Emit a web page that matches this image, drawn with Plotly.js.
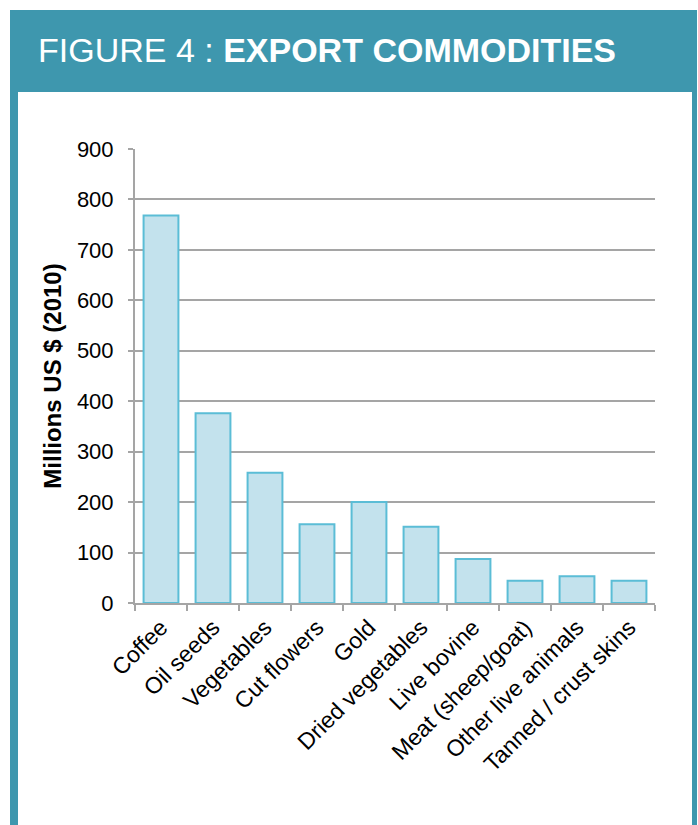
<!DOCTYPE html>
<html>
<head>
<meta charset="utf-8">
<script src="https://cdn.plot.ly/plotly-3.0.1.min.js"></script>
<style>html,body{margin:0;padding:0;background:#fff;}#chart{width:698px;height:825px;}</style>
</head>
<body>
<div id="chart"></div>
<script>
// Data
const categories = ["Coffee", "Oil seeds", "Vegetables", "Cut flowers", "Gold", "Dried vegetables", "Live bovine", "Meat (sheep/goat)", "Other live animals", "Tanned / crust skins"];
const values = [768, 376, 258, 156, 200, 151, 87, 44, 53, 44];
const yTickVals = [0, 100, 200, 300, 400, 500, 600, 700, 800, 900];
const titleLight = "FIGURE 4 : ";
const titleBold = "EXPORT COMMODITIES";
const yTitle = "Millions US $ (2010)";

// Layout geometry (pixels)
const W = 698, H = 825;
const M = {l: 135, r: 43, t: 149, b: 222};
const pw = W - M.l - M.r, ph = H - M.t - M.b;
const px = x => (x - M.l) / pw;
const py = y => (H - M.b - y) / ph;

const teal = "#3e97ae";
const font = "Liberation Sans, Arial, Helvetica, sans-serif";

const trace = {
  type: "bar",
  x: categories,
  y: values,
  marker: {color: "#c3e2ed", line: {color: "#5bbdd6", width: 2}},
  hoverinfo: "x+y"
};

const layout = {
  width: W, height: H,
  margin: M,
  paper_bgcolor: "#ffffff",
  plot_bgcolor: "rgba(0,0,0,0)",
  showlegend: false,
  bargap: 0.33,
  font: {family: font, color: "#000"},
  xaxis: {
    type: "category",
    tickangle: -45,
    tickfont: {size: 23, family: font, color: "#000"},
    showline: true, linecolor: "#a5a5a5", linewidth: 2,
    ticks: "outside", tickson: "boundaries", ticklen: 6, tickwidth: 2, tickcolor: "#a5a5a5",
    showgrid: false,
    automargin: false
  },
  yaxis: {
    range: [0, 900],
    tickvals: yTickVals,
    tickfont: {size: 22, family: font, color: "#000"},
    showline: true, linecolor: "#a5a5a5", linewidth: 2,
    ticks: "outside", ticklen: 5, tickwidth: 2, tickcolor: "#a5a5a5",
    ticklabelstandoff: 10,
    showgrid: true, gridcolor: "#a5a5a5", gridwidth: 2,
    zeroline: false,
    title: {text: "<b>" + yTitle + "</b>", font: {size: 24, family: font, color: "#000"}, standoff: 8},
    automargin: false
  },
  shapes: [
    {type: "rect", xref: "paper", yref: "paper", layer: "below",
     x0: px(10), x1: px(697), y0: py(830), y1: py(10),
     fillcolor: teal, line: {width: 0}},
    {type: "rect", xref: "paper", yref: "paper", layer: "below",
     x0: px(18), x1: px(692), y0: py(840), y1: py(92),
     fillcolor: "#ffffff", line: {width: 0}}
  ],
  annotations: [
    {xref: "paper", yref: "paper", x: px(36), y: py(50), xanchor: "left", yanchor: "middle",
     showarrow: false, text: titleLight + "<b>" + titleBold + "</b>",
     font: {size: 34, family: font, color: "#ffffff"}}
  ]
};

Plotly.newPlot("chart", [trace], layout, {displayModeBar: false, staticPlot: true});
</script>
</body>
</html>
